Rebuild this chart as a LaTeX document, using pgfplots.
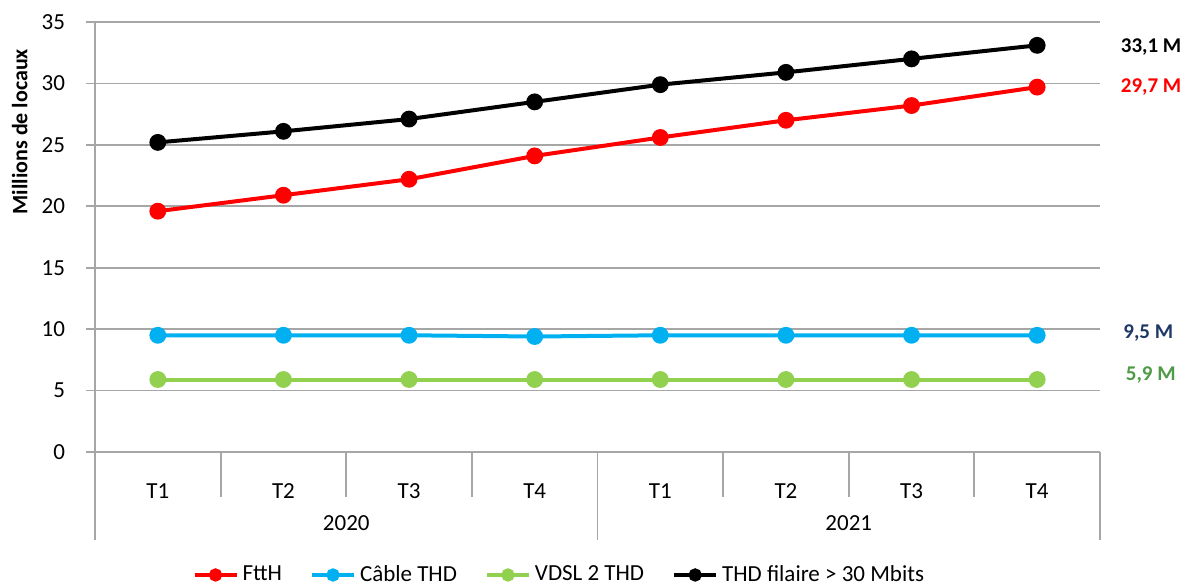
\documentclass[border=0pt]{standalone}
\usepackage{pgfplots}
\pgfplotsset{compat=1.18}
\usepackage{fontspec}
\setmainfont{Carlito}
\definecolor{fttH}{HTML}{FF0000}
\definecolor{cable}{HTML}{00B0F0}
\definecolor{vdsl}{HTML}{92D050}
\definecolor{gridgray}{HTML}{A6A6A6}
\definecolor{navylbl}{HTML}{1F3864}
\definecolor{greenlbl}{HTML}{4E9A46}
\begin{document}
\begin{tikzpicture}
\useasboundingbox (0,0) rectangle (594.5pt,294pt);
\begin{axis}[
    at={(47.5pt,68pt)}, anchor=south west,
    scale only axis, width=502.5pt, height=215pt,
    font=\fontsize{11.5}{13}\selectfont,
    /pgf/number format/assume math mode=true,
    xmin=0.5, xmax=8.5, ymin=0, ymax=35,
    ytick={0,5,...,35},
    yticklabel style={xshift=-7pt},
    xtick={1,...,8},
    xticklabels={T1,T2,T3,T4,T1,T2,T3,T4},
    xticklabel style={anchor=center, yshift=-15pt},
    x tick style={draw=none},
    axis x line=bottom, axis y line=left,
    axis line style={-, gridgray, line width=0.9pt},
    ymajorgrids, major grid style={gridgray, line width=0.9pt},
    y tick style={gridgray, line width=0.9pt},
    tick align=outside, major tick length=4.5pt,
    ylabel={\bfseries Millions de locaux},
    ylabel style={at={(axis description cs:-0.075,0.745)}, anchor=center,
        font=\fontsize{11}{13}\selectfont},
    clip=false,
    legend columns=4,
    legend style={at={(axis description cs:0.463,-0.286)}, anchor=center,
        draw=none, font=\fontsize{11.5}{13}\selectfont,
        /tikz/every even column/.append style={column sep=12pt}},
    legend image code/.code={
        \draw[#1, mark=none] (0pt,0pt) -- (21pt,0pt);
        \draw[#1, only marks, mark size=2.3pt] plot coordinates {(10.5pt,0pt)};},
    every axis plot/.append style={line width=2pt, mark=*, mark size=3.2pt},
]
\addplot[color=fttH, mark options={fill=fttH}] coordinates {
    (1,19.6)(2,20.9)(3,22.2)(4,24.1)(5,25.6)(6,27.0)(7,28.2)(8,29.7)};
\addlegendentry{FttH}
\addplot[color=cable, mark options={fill=cable}] coordinates {
    (1,9.5)(2,9.5)(3,9.5)(4,9.4)(5,9.5)(6,9.5)(7,9.5)(8,9.5)};
\addlegendentry{Câble THD}
\addplot[color=vdsl, mark options={fill=vdsl}] coordinates {
    (1,5.9)(2,5.9)(3,5.9)(4,5.9)(5,5.9)(6,5.9)(7,5.9)(8,5.9)};
\addlegendentry{VDSL 2 THD}
\addplot[color=black, mark options={fill=black}] coordinates {
    (1,25.2)(2,26.1)(3,27.1)(4,28.5)(5,29.9)(6,30.9)(7,32.0)(8,33.1)};
\addlegendentry{THD filaire > 30 Mbits}

% category separators
\draw[gridgray, line width=0.9pt] (axis cs:1.5,0) -- ([yshift=-22.5pt]axis cs:1.5,0);
\draw[gridgray, line width=0.9pt] (axis cs:2.5,0) -- ([yshift=-22.5pt]axis cs:2.5,0);
\draw[gridgray, line width=0.9pt] (axis cs:3.5,0) -- ([yshift=-22.5pt]axis cs:3.5,0);
\draw[gridgray, line width=0.9pt] (axis cs:5.5,0) -- ([yshift=-22.5pt]axis cs:5.5,0);
\draw[gridgray, line width=0.9pt] (axis cs:6.5,0) -- ([yshift=-22.5pt]axis cs:6.5,0);
\draw[gridgray, line width=0.9pt] (axis cs:7.5,0) -- ([yshift=-22.5pt]axis cs:7.5,0);
\draw[gridgray, line width=0.9pt] (axis cs:0.5,0) -- ([yshift=-44pt]axis cs:0.5,0);
\draw[gridgray, line width=0.9pt] (axis cs:4.5,0) -- ([yshift=-44pt]axis cs:4.5,0);
\draw[gridgray, line width=0.9pt] (axis cs:8.5,0) -- ([yshift=-44pt]axis cs:8.5,0);
\node[anchor=center] at ([yshift=-35.5pt]axis cs:2.5,0) {2020};
\node[anchor=center] at ([yshift=-35.5pt]axis cs:6.5,0) {2021};

% end labels
\node[anchor=west, font=\fontsize{10.5}{12}\selectfont\bfseries, text=black] at (axis cs:8.61,33.0) {33,1 M};
\node[anchor=west, font=\fontsize{10.5}{12}\selectfont\bfseries, text=fttH] at (axis cs:8.61,29.7) {29,7 M};
\node[anchor=west, font=\fontsize{10.5}{12}\selectfont\bfseries, text=navylbl] at (axis cs:8.63,9.7) {9,5 M};
\node[anchor=west, font=\fontsize{10.5}{12}\selectfont\bfseries, text=greenlbl] at (axis cs:8.65,6.3) {5,9 M};
\end{axis}
\end{tikzpicture}
\end{document}
